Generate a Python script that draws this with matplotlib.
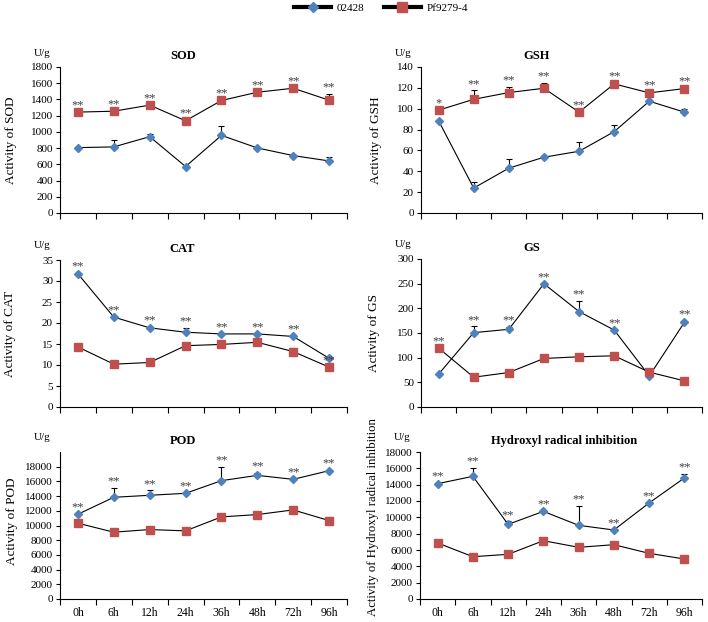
import numpy as np
import matplotlib.pyplot as plt
from matplotlib.lines import Line2D

plt.rcParams['font.family'] = ['Liberation Serif', 'DejaVu Serif']

times = ['0h', '6h', '12h', '24h', '36h', '48h', '72h', '96h']
names = ['02428', 'Pf9279-4']

# values (02428 = a, Pf9279-4 = b), upper error only
sod_a = [806, 815, 941, 573, 957, 802, 708, 642]
sod_a_err = [10, 85, 33, 10, 119, 10, 10, 45]
sod_b = [1244, 1255, 1330, 1137, 1387, 1489, 1538, 1391]
sod_b_err = [10, 10, 10, 10, 10, 10, 10, 82]
sod_sig = ['**'] * 8
sod_sig_on = 'bbbbbbbb'

gsh_a = [88.5, 23.9, 43.0, 53.5, 59.2, 78.0, 107.2, 96.7]
gsh_a_err = [1, 6, 8.5, 1, 9, 6, 4, 3]
gsh_b = [98.6, 109.0, 115.5, 119.6, 96.7, 123.8, 115.2, 119.3]
gsh_b_err = [1, 8.7, 5.5, 5.4, 1, 1, 1, 1]
gsh_sig = ['*'] + ['**'] * 7
gsh_sig_on = 'bbbbbbbb'

cat_a = [31.7, 21.4, 18.85, 17.8, 17.4, 17.4, 16.8, 11.6]
cat_a_err = [0.2, 0.2, 0.2, 1.1, 0.2, 0.2, 0.2, 0.2]
cat_b = [14.3, 10.2, 10.6, 14.6, 14.9, 15.4, 13.2, 9.5]
cat_b_err = [0.2, 0.2, 0.2, 0.2, 0.2, 0.2, 0.8, 0.2]
cat_sig = ['**'] * 8
cat_sig_on = 'aaaaaaab'

gs_a = [66.5, 150.7, 157.5, 249.8, 193.4, 156.0, 63.0, 171.7]
gs_a_err = [1, 13, 5.5, 1, 21.6, 1, 1, 3.3]
gs_b = [119.5, 60.4, 69.9, 98.4, 101.8, 103.8, 70.6, 53.0]
gs_b_err = [1, 1, 1, 1, 1, 1, 1, 1]
gs_sig = ['**'] * 6 + [''] + ['**']
gs_sig_on = 'baaaaaaa'

pod_a = [11533, 13840, 14110, 14380, 16100, 16820, 16280, 17460]
pod_a_err = [100, 1310, 680, 100, 1900, 370, 100, 100]
pod_b = [10310, 9090, 9450, 9270, 11170, 11490, 12120, 10670]
pod_b_err = [100, 300, 100, 100, 100, 100, 100, 500]
pod_sig = ['**'] * 8
pod_sig_on = 'aaaaaaaa'

oh_a = [14120, 15020, 9140, 10730, 9020, 8450, 11760, 14820]
oh_a_err = [100, 1020, 370, 100, 2410, 100, 100, 480]
oh_b = [6860, 5180, 5470, 7140, 6330, 6650, 5590, 4900]
oh_b_err = [100, 100, 100, 100, 100, 100, 100, 100]
oh_sig = ['**'] * 8
oh_sig_on = 'aaaaaaaa'

panels = [
    ('SOD', 'Activity of SOD', sod_a, sod_a_err, sod_b, sod_b_err, sod_sig, sod_sig_on, 1800, np.arange(0, 1801, 200)),
    ('GSH', 'Activity of GSH', gsh_a, gsh_a_err, gsh_b, gsh_b_err, gsh_sig, gsh_sig_on, 140, np.arange(0, 141, 20)),
    ('CAT', 'Activity of CAT', cat_a, cat_a_err, cat_b, cat_b_err, cat_sig, cat_sig_on, 35, np.arange(0, 36, 5)),
    ('GS', 'Activity of GS', gs_a, gs_a_err, gs_b, gs_b_err, gs_sig, gs_sig_on, 300, np.arange(0, 301, 50)),
    ('POD', 'Activity of POD', pod_a, pod_a_err, pod_b, pod_b_err, pod_sig, pod_sig_on, 20000, np.arange(0, 18001, 2000)),
    ('Hydroxyl radical inhibition', 'Activity of Hydroxyl radical inhibition',
     oh_a, oh_a_err, oh_b, oh_b_err, oh_sig, oh_sig_on, 18000, np.arange(0, 18001, 2000)),
]

# axes boxes in pixels: left, top, right, bottom
W, H = 708, 622
boxes = [
    (60, 67, 347, 213), (421, 67, 702, 213),
    (60, 260, 347, 407), (421, 259, 702, 407),
    (60, 452, 347, 599), (420, 452, 702, 599),
]
title_x = [183, 537, 182, 532, 183, 564]
ylab_off = [43, 39, 44, 41, 42, 41]
ylab_y = [0.5, 0.5, 0.5, 0.5, 0.53, 0.555]
ylab_size = [9.5, 9.5, 9.5, 9.5, 9.5, 9.2]

blue = '#4F81BD'
red = '#C0504D'

fig = plt.figure(figsize=(W / 100, H / 100), dpi=100)

for i, (title, ylab, a, a_err, b, b_err, sig, sig_on, ytop, yticks) in enumerate(panels):
    l, t, r, btm = boxes[i]
    ax = fig.add_axes([l / W, 1 - btm / H, (r - l) / W, (btm - t) / H])
    x = np.arange(len(times))

    for vals, err in ((a, a_err), (b, b_err)):
        ax.errorbar(x, vals, yerr=[np.zeros(len(err)), err], fmt='none',
                    ecolor='black', elinewidth=0.8, capsize=2.5, capthick=0.8, zorder=2)
    ax.plot(x, a, color='black', lw=0.8, marker='D', ms=4, mfc=blue, mec=blue, zorder=3)
    ax.plot(x, b, color='black', lw=0.8, marker='s', ms=5.5, mfc=red, mec=red, zorder=3)

    for j, s in enumerate(sig):
        if not s:
            continue
        v, e = (a[j], a_err[j]) if sig_on[j] == 'a' else (b[j], b_err[j])
        ax.annotate(s, (j, v + e), xytext=(0, 4.5), textcoords='offset points',
                    ha='center', va='center', fontsize=9, color='#404040', zorder=4)

    ax.set_xlim(-0.5, len(times) - 0.5)
    ax.set_ylim(0, ytop)
    ax.set_yticks(yticks)
    ax.set_xticks(x)
    ax.set_xticks(np.arange(-0.5, len(times), 1), minor=True)
    ax.tick_params(axis='x', which='major', length=0, labelsize=8.5, pad=6)
    ax.tick_params(axis='x', which='minor', length=4, width=0.8, direction='out')
    ax.tick_params(axis='y', length=3, width=0.8, direction='out', labelsize=8, pad=2)
    if i >= 4:
        ax.set_xticklabels(times)
    else:
        ax.set_xticklabels([])
    for sp in ('top', 'right'):
        ax.spines[sp].set_visible(False)
    for sp in ('left', 'bottom'):
        ax.spines[sp].set_linewidth(0.8)

    ax.set_ylabel(ylab, fontsize=ylab_size[i])
    ax.yaxis.set_label_coords(-ylab_off[i] / (r - l), ylab_y[i])

    fig.text(title_x[i] / W, 1 - (t - 11) / H, title, ha='center', va='center',
             fontsize=9, fontweight='bold')
    fig.text((l - 18) / W, 1 - (t - 14) / H, 'U/g', ha='center', va='center', fontsize=8)

handles = [
    Line2D([], [], color='black', lw=3, marker='D', ms=5, mfc=blue, mec=blue),
    Line2D([], [], color='black', lw=3, marker='s', ms=7, mfc=red, mec=red),
]
fig.legend(handles, names, loc='center', bbox_to_anchor=(381 / W, 1 - 8 / H), ncol=2,
           frameon=False, fontsize=8, handlelength=3.3, columnspacing=1.8, handletextpad=0.5)

fig.savefig('out.png', dpi=100)
